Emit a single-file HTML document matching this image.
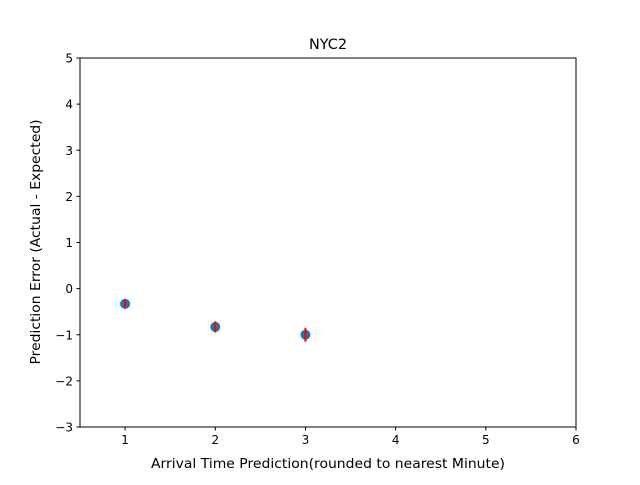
<!DOCTYPE html>
<html><head><meta charset="utf-8"><style>
body{margin:0;background:#fff;}
svg text{font-family:"DejaVu Sans","Liberation Sans",sans-serif;font-size:12px;fill:#000;}
</style></head><body>
<svg id="chart" width="640" height="480" xmlns="http://www.w3.org/2000/svg">
<rect width="640" height="480" fill="#fff"/>
<text x="328" y="49" text-anchor="middle" style="font-size:14.4px">NYC2</text>
<g id="ticks"></g>
<g id="marks"></g>
<rect x="80" y="58" width="496" height="369" fill="none" stroke="#000" stroke-width="1"/>
<text x="328" y="468" text-anchor="middle" textLength="354" lengthAdjust="spacingAndGlyphs" style="font-size:13px">Arrival Time Prediction(rounded to nearest Minute)</text>
<text transform="translate(40,242) rotate(-90)" text-anchor="middle" textLength="245" lengthAdjust="spacingAndGlyphs" style="font-size:13px">Prediction Error (Actual - Expected)</text>
</svg>
<script>
const xs=[1,2,3];
const ys=[-0.33,-0.83,-1.0];
const errs=[0.1,0.12,0.15];
const xTicks=[1,2,3,4,5,6];
const yTicks=[-3,-2,-1,0,1,2,3,4,5];
const L=80,R=576,T=58,B=427,xmin=0.5,xmax=6,ymin=-3,ymax=5;
const sx=v=>L+(v-xmin)/(xmax-xmin)*(R-L);
const sy=v=>B-(v-ymin)/(ymax-ymin)*(B-T);
const NS="http://www.w3.org/2000/svg";
const tg=document.getElementById('ticks'),mg=document.getElementById('marks');
function mk(tag,a,p){const e=document.createElementNS(NS,tag);for(const k in a)e.setAttribute(k,a[k]);p.appendChild(e);return e;}
xTicks.forEach(t=>{const x=sx(t);
 const l=mk('line',{x1:x,x2:x,y1:B,y2:B+3.5,stroke:'#000'},tg);
 
 
 const s=mk('text',{x:x,y:B+17,'text-anchor':'middle'},tg);s.textContent=t;
 
 });
yTicks.forEach(t=>{const y=sy(t);
 const l=mk('line',{x1:L-3.5,x2:L,y1:y,y2:y,stroke:'#000'},tg);
 
 
 const s=mk('text',{x:L-7,y:y+4.5,'text-anchor':'end'},tg);s.textContent=t<0?'\u2212'+(-t):t;
 
 });
xs.forEach((v,i)=>{const x=sx(v),y=sy(ys[i]);
 const c=mk('circle',{cx:x,cy:y,r:5,fill:'#1f77b4'},mg);
 
 });
xs.forEach((v,i)=>{const x=sx(v);
 const e=mk('line',{x1:x,x2:x,y1:sy(ys[i]+errs[i]),y2:sy(ys[i]-errs[i]),stroke:'#ff0000','stroke-width':2},mg);
 
 });
</script>
</body></html>
